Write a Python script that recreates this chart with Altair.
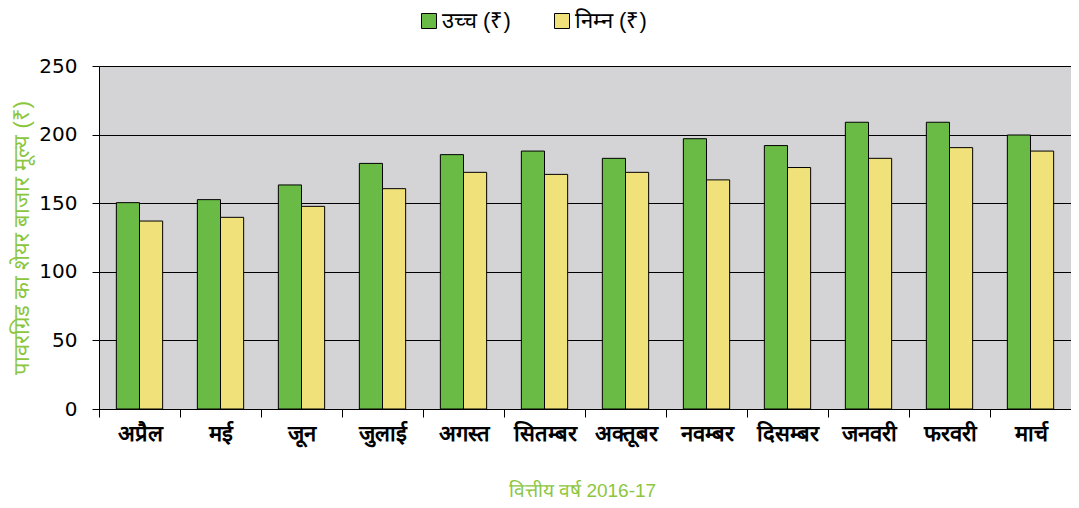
import altair as alt
import pandas as pd

months = ["अप्रैल", "मई", "जून", "जुलाई", "अगस्त", "सितम्बर", "अक्तूबर",
          "नवम्बर", "दिसम्बर", "जनवरी", "फरवरी", "मार्च"]
high = [150.4, 152.6, 163.3, 179.0, 185.4, 188.0, 182.7, 197.0, 192.0, 209.0, 209.0, 199.7]
low = [137.0, 139.7, 147.7, 160.6, 172.5, 171.0, 172.5, 167.0, 176.0, 182.7, 190.5, 188.0]
series = ["उच्च (₹)", "निम्न (₹)"]
colors = ["#69bb45", "#f0e17a"]
y_ticks = [0, 50, 100, 150, 200, 250]

rows = []
for i, m in enumerate(months):
    rows.append({"month": m, "series": series[0], "value": high[i]})
    rows.append({"month": m, "series": series[1], "value": low[i]})
df = pd.DataFrame(rows)

green_text = "#8cc63e"

chart = alt.Chart(df).mark_bar(stroke="black", strokeWidth=1).encode(
    x=alt.X(
        "month:N",
        sort=months,
        scale=alt.Scale(paddingInner=0, paddingOuter=0),
        axis=alt.Axis(
            title="वित्तीय वर्ष 2016-17",
            titleX=483,
            titleY=87,
            titleAlign="center",
            titleBaseline="alphabetic",
            titleFontSize=19,
            titleFontWeight="normal",
            titleColor=green_text,
            titleFont="Liberation Sans",
            labelAngle=0,
            labelFontSize=22,
            labelFontWeight="bold",
            labelColor="black",
            labelPadding=6,
            tickBand="extent",
            tickSize=8,
            tickColor="black",
            domainColor="black",
            grid=False,
        ),
    ),
    xOffset=alt.XOffset(
        "series:N",
        sort=series,
        scale=alt.Scale(paddingOuter=0.75, paddingInner=0),
    ),
    y=alt.Y(
        "value:Q",
        scale=alt.Scale(domain=[0, 250], nice=False),
        axis=alt.Axis(
            values=y_ticks,
            title="पावरग्रिड का शेयर बाजार मूल्य  (₹)",
            titleX=-78,
            titleY=171.5,
            titleAngle=270,
            titleAlign="center",
            titleBaseline="middle",
            titleFontSize=22,
            titleFontWeight="normal",
            titleColor=green_text,
            labelFont="DejaVu Sans",
            labelFontSize=20,
            labelColor="black",
            labelPadding=15,
            tickSize=7,
            tickColor="black",
            domainColor="black",
            gridColor="black",
            gridWidth=1,
            gridOpacity=1,
        ),
    ),
    color=alt.Color(
        "series:N",
        sort=series,
        scale=alt.Scale(domain=series, range=colors),
        legend=alt.Legend(
            title=None,
            orient="none",
            legendX=319,
            legendY=-56,
            direction="horizontal",
            symbolType="square",
            symbolSize=225,
            symbolStrokeColor="black",
            symbolStrokeWidth=1,
            labelFontSize=22,
            labelColor="black",
            labelOffset=2,
            columnPadding=40,
            padding=0,
        ),
    ),
).properties(
    width=972,
    height=343,
    padding={"left": 91, "top": 58, "right": 0, "bottom": 91},
    autosize=alt.AutoSizeParams(type="none"),
).configure_view(
    fill="#d4d4d6",
    stroke="transparent",
)

chart.save("out.html", embed_options={"renderer": "svg", "actions": False})
